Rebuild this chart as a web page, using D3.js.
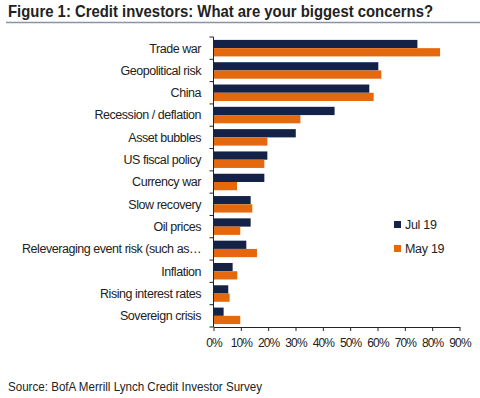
<!DOCTYPE html>
<html>
<head>
<meta charset="utf-8">
<script src="https://cdn.jsdelivr.net/npm/d3@7"></script>
<style>
  body { margin: 0; background: #fff; }
  svg { display: block; }
</style>
</head>
<body>
<div id="chart"></div>
<script>
// concerns, top to bottom
const categories = ['Trade war', 'Geopolitical risk', 'China', 'Recession / deflation', 'Asset bubbles',
  'US fiscal policy', 'Currency war', 'Slow recovery', 'Oil prices', 'Releveraging event risk (such as\u2026',
  'Inflation', 'Rising interest rates', 'Sovereign crisis'];
const jul19 = [74.6, 60.3, 57.0, 44.3, 30.1, 19.7, 18.6, 13.6, 13.6, 12.0, 7.0, 5.4, 3.7];
const may19 = [82.9, 61.4, 58.6, 31.8, 19.7, 18.6, 8.6, 14.2, 9.8, 15.9, 8.7, 5.9, 9.8];
const seriesNames = ['Jul 19', 'May 19'];
const xTicks = [0, 10, 20, 30, 40, 50, 60, 70, 80, 90];

const W = 480, H = 398;
const colors = ['#132246', '#e4690e'];
const plotLeft = 213.5, plotRight = 459.5, plotTop = 37, plotBottom = 327;

const svg = d3.select('#chart').append('svg')
  .attr('width', W).attr('height', H)
  .style('font-family', '"Liberation Sans", Arial, sans-serif');

// title (condensed bold face squeezed to fit)
svg.append('text')
  .attr('x', 8).attr('y', 17)
  .attr('textLength', 425)
  .attr('lengthAdjust', 'spacingAndGlyphs')
  .style('font-weight', '700')
  .style('font-size', '16.5px')
  .style('fill', '#222')
  .text('Figure 1: Credit investors: What are your biggest concerns?');

svg.append('line')
  .attr('x1', 6).attr('x2', 480)
  .attr('y1', 22.5).attr('y2', 22.5)
  .attr('stroke', '#8892a8').attr('stroke-width', 1.5);

const x = d3.scaleLinear().domain([0, 90]).range([plotLeft, plotRight]);
const y = d3.scaleBand().domain(categories).range([plotTop, plotBottom]).paddingInner(0.26).paddingOuter(0.13);
const ySub = d3.scaleBand().domain(seriesNames).range([0, y.bandwidth()]);

const rows = categories.map((c, i) => ({ cat: c, vals: [jul19[i], may19[i]] }));

const g = svg.append('g');
g.selectAll('g.row')
  .data(rows)
  .enter().append('g')
  .attr('class', 'row')
  .attr('transform', d => `translate(0,${y(d.cat)})`)
  .selectAll('rect')
  .data(d => d.vals.map((v, k) => ({ v, k })))
  .enter().append('rect')
  .attr('x', x(0))
  .attr('y', d => ySub(seriesNames[d.k]))
  .attr('width', d => x(d.v) - x(0))
  .attr('height', ySub.bandwidth())
  .attr('fill', d => colors[d.k]);

// y axis: line with ticks between categories
const step = (plotBottom - plotTop) / categories.length;
const yAxis = svg.append('g');
yAxis.append('line')
  .attr('x1', plotLeft).attr('x2', plotLeft)
  .attr('y1', plotTop).attr('y2', plotBottom)
  .attr('stroke', '#222').attr('stroke-width', 1);
d3.range(categories.length + 1).forEach(i => {
  yAxis.append('line')
    .attr('x1', plotLeft - 4).attr('x2', plotLeft)
    .attr('y1', plotTop + i * step).attr('y2', plotTop + i * step)
    .attr('stroke', '#222');
});
yAxis.selectAll('text')
  .data(categories)
  .enter().append('text')
  .attr('x', 201)
  .attr('y', d => y(d) + y.bandwidth() / 2)
  .attr('dy', '0.35em')
  .attr('text-anchor', 'end')
  .style('font-size', '12.5px')
  .style('letter-spacing', '-0.45px')
  .style('fill', '#222')
  .text(d => d);

// x axis
const xAxis = svg.append('g').attr('transform', `translate(0,${plotBottom})`)
  .call(d3.axisBottom(x).tickValues(xTicks).tickSize(4).tickSizeOuter(0).tickFormat(d => d + '%'));
xAxis.select('.domain').attr('stroke', '#222');
xAxis.selectAll('.tick line').attr('stroke', '#222');
xAxis.selectAll('.tick text')
  .attr('y', 11)
  .style('font-family', '"Liberation Sans", Arial, sans-serif')
  .style('font-size', '12px')
  .style('letter-spacing', '-0.9px')
  .style('fill', '#222');

// legend
const legend = svg.append('g').attr('transform', 'translate(394,225)');
seriesNames.forEach((s, i) => {
  legend.append('rect')
    .attr('x', 0).attr('y', i * 24 - 4)
    .attr('width', 7).attr('height', 7)
    .attr('fill', colors[i]);
  legend.append('text')
    .attr('x', 11).attr('y', i * 24)
    .attr('dy', '0.35em')
    .style('font-size', '12.5px')
    .style('letter-spacing', '-0.3px')
    .style('fill', '#222')
    .text(s);
});

// source
svg.append('text')
  .attr('x', 8).attr('y', 391)
  .attr('textLength', 254)
  .attr('lengthAdjust', 'spacingAndGlyphs')
  .style('font-size', '12px')
  .style('fill', '#222')
  .text('Source: BofA Merrill Lynch Credit Investor Survey');
</script>
</body>
</html>
